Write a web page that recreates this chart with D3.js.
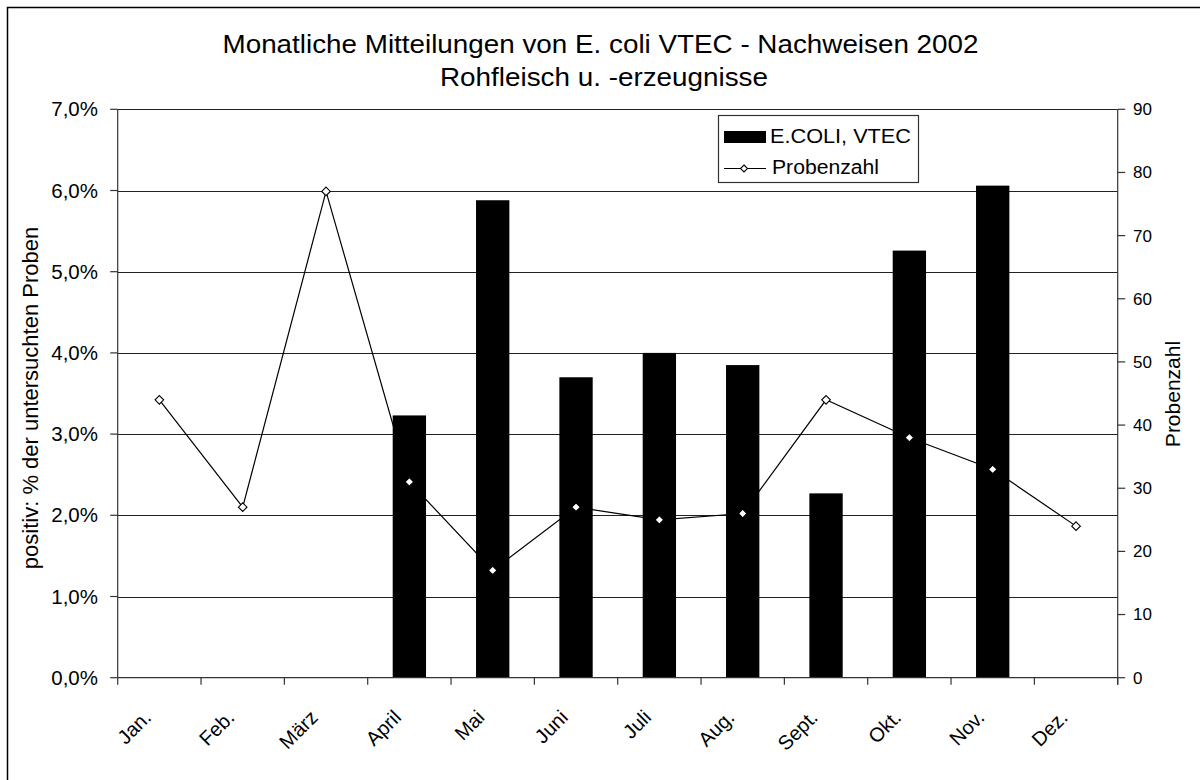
<!DOCTYPE html>
<html><head><meta charset="utf-8">
<script src="https://cdn.jsdelivr.net/npm/d3@7"></script>
<style>
html,body{margin:0;padding:0;background:#fff;}
svg{display:block;font-family:"Liberation Sans",Arial,sans-serif;}
</style></head>
<body><svg id="c" width="1200" height="780"></svg>
<script>
const months = ["Jan.","Feb.","März","April","Mai","Juni","Juli","Aug.","Sept.","Okt.","Nov.","Dez."];
const positiveShare = [0, 0, 0, 0.0323, 0.0588, 0.0370, 0.0400, 0.0385, 0.0227, 0.0526, 0.0606, 0];
const probenzahl = [44, 27, 77, 31, 17, 27, 25, 26, 44, 38, 33, 24];
const leftTicks = [0, 0.01, 0.02, 0.03, 0.04, 0.05, 0.06, 0.07];
const rightTicks = [0, 10, 20, 30, 40, 50, 60, 70, 80, 90];
const titleLines = ["Monatliche Mitteilungen von E. coli VTEC - Nachweisen 2002", "Rohfleisch u. -erzeugnisse"];
const leftTitle = "positiv: % der untersuchten Proben";
const rightTitle = "Probenzahl";
const legendLabels = ["E.COLI, VTEC", "Probenzahl"];

const svg = d3.select("#c");
const L = 117.7, R = 1117.7, T = 109.3, B = 677.7;
const x = d3.scaleBand().domain(months).range([L, R]);
const yL = d3.scaleLinear().domain([0, 0.07]).range([B, T]);
const yR = d3.scaleLinear().domain([0, 90]).range([B, T]);
const de = d3.formatLocale({decimal: ",", thousands: ".", grouping: [3], currency: ["", "€"]});
const fmtPct = de.format(".1%");

// border
svg.append("rect").attr("x", 7.5).attr("y", 7.5).attr("width", 1220).attr("height", 800)
  .attr("fill", "none").attr("stroke", "#000").attr("stroke-width", 1.5);

// gridlines
svg.append("g").selectAll("line").data(leftTicks.slice(1)).join("line")
  .attr("x1", L).attr("x2", R)
  .attr("y1", d => Math.round(yL(d)) + 0.5).attr("y2", d => Math.round(yL(d)) + 0.5)
  .attr("stroke", "#222").attr("stroke-width", 1);

// line (behind bars)
const pts = months.map((m, i) => [x(m) + x.bandwidth() / 2, yR(probenzahl[i])]);
svg.append("path").attr("d", d3.line()(pts)).attr("fill", "none")
  .attr("stroke", "#000").attr("stroke-width", 1.2);

// bars
const bw = x.bandwidth() * 0.4;
svg.append("g").selectAll("rect").data(months.map((m, i) => ({m, v: positiveShare[i]})).filter(d => d.v > 0))
  .join("rect")
  .attr("x", d => x(d.m) + x.bandwidth() / 2 - bw / 2)
  .attr("width", bw)
  .attr("y", d => yL(d.v))
  .attr("height", d => B - yL(d.v))
  .attr("fill", "#000");

// markers
const diamond = (cx, cy, r) => `M${cx},${cy - r}L${cx + r},${cy}L${cx},${cy + r}L${cx - r},${cy}Z`;
svg.append("g").selectAll("path").data(pts).join("path")
  .attr("d", d => diamond(d[0], d[1], 4.3))
  .attr("fill", "#fff").attr("stroke", "#000").attr("stroke-width", 1.1);

// axes
const axisG = svg.append("g").attr("stroke", "#333").attr("stroke-width", 1.2);
axisG.append("line").attr("x1", L).attr("x2", L).attr("y1", T).attr("y2", B);
axisG.append("line").attr("x1", R).attr("x2", R).attr("y1", T).attr("y2", B + 7);
axisG.append("line").attr("x1", L).attr("x2", R).attr("y1", B).attr("y2", B);
axisG.selectAll(".tl").data(leftTicks).join("line").attr("class", "tl")
  .attr("x1", L - 7.5).attr("x2", L).attr("y1", d => yL(d)).attr("y2", d => yL(d));
axisG.selectAll(".tr").data(rightTicks).join("line").attr("class", "tr")
  .attr("x1", R).attr("x2", R + 7.5).attr("y1", d => yR(d)).attr("y2", d => yR(d));
const bounds = months.map(m => x(m)).concat([R]);
axisG.selectAll(".tx").data(bounds).join("line").attr("class", "tx")
  .attr("x1", d => d).attr("x2", d => d).attr("y1", B).attr("y2", B + 7);

// left tick labels
svg.append("g").selectAll("text").data(leftTicks).join("text")
  .attr("x", 98).attr("y", d => yL(d)).attr("dy", "0.35em")
  .attr("text-anchor", "end").attr("font-size", 20.5).attr("fill", "#000")
  .text(d => fmtPct(d));

// right tick labels
svg.append("g").selectAll("text").data(rightTicks).join("text")
  .attr("x", 1133).attr("y", d => yR(d)).attr("dy", "0.35em")
  .attr("text-anchor", "start").attr("font-size", 17).attr("fill", "#000")
  .text(d => d);

// x labels
svg.append("g").selectAll("text").data(months).join("text")
  .attr("transform", m => `translate(${x(m) + x.bandwidth() / 2 - 7},${B + 41}) rotate(-45)`)
  .attr("text-anchor", "end").attr("font-size", 20).attr("fill", "#000")
  .text(m => m);

// axis titles
svg.append("text").attr("transform", `translate(38,398) rotate(-90)`)
  .attr("text-anchor", "middle").attr("font-size", 22).attr("fill", "#000").text(leftTitle);
svg.append("text").attr("transform", `translate(1180,394) rotate(-90)`)
  .attr("text-anchor", "middle").attr("font-size", 21).attr("fill", "#000").text(rightTitle);

// title
svg.append("text").attr("x", 600.5).attr("y", 52.7).attr("text-anchor", "middle")
  .attr("font-size", 25).attr("textLength", 756).attr("lengthAdjust", "spacingAndGlyphs").text(titleLines[0]);
svg.append("text").attr("x", 604).attr("y", 86).attr("text-anchor", "middle")
  .attr("font-size", 25).attr("textLength", 328).attr("lengthAdjust", "spacingAndGlyphs").text(titleLines[1]);

// legend
const lg = svg.append("g");
lg.append("rect").attr("x", 718.5).attr("y", 115.5).attr("width", 200).attr("height", 67)
  .attr("fill", "#fff").attr("stroke", "#333").attr("stroke-width", 1.2);
lg.append("rect").attr("x", 724).attr("y", 131).attr("width", 42).attr("height", 12).attr("fill", "#000");
lg.append("text").attr("x", 770).attr("y", 143.3).attr("font-size", 20)
  .attr("textLength", 141).attr("lengthAdjust", "spacingAndGlyphs").text(legendLabels[0]);
lg.append("line").attr("x1", 724).attr("x2", 766).attr("y1", 168.5).attr("y2", 168.5)
  .attr("stroke", "#000").attr("stroke-width", 1.2);
lg.append("path").attr("d", diamond(744, 168.5, 3.5)).attr("fill", "#fff").attr("stroke", "#000").attr("stroke-width", 1.1);
lg.append("text").attr("x", 772).attr("y", 174).attr("font-size", 20)
  .attr("textLength", 107).attr("lengthAdjust", "spacingAndGlyphs").text(legendLabels[1]);
</script></body></html>
